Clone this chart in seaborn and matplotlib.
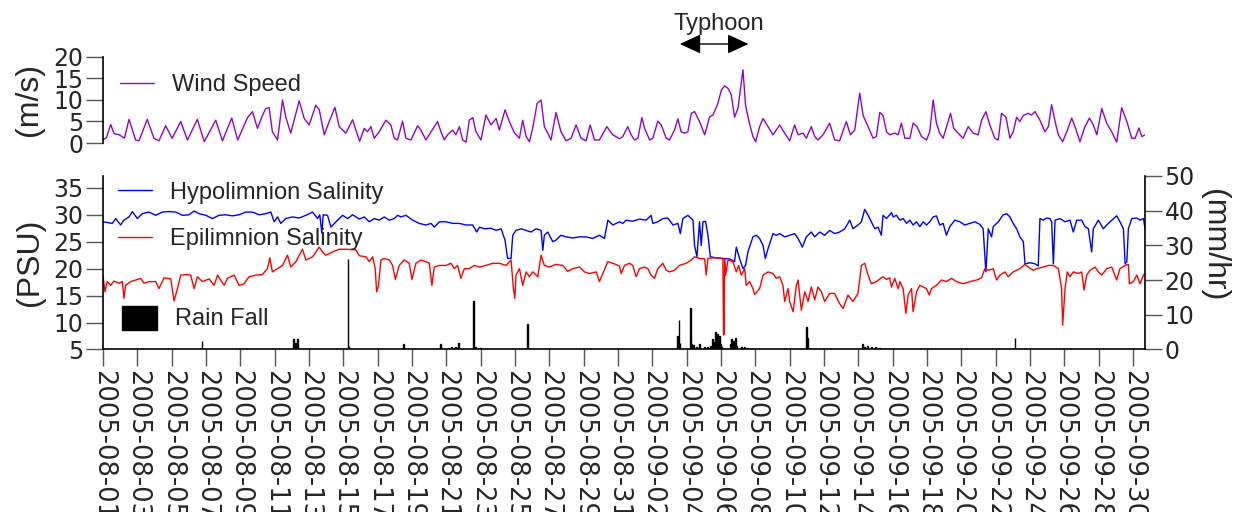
import numpy as np
import pandas as pd
import matplotlib
matplotlib.use("Agg")
import matplotlib.pyplot as plt
import matplotlib.dates as mdates
import seaborn as sns

# ---------------- data (days since 2005-08-01 00:00) ----------------
start_date = "2005-08-01"

wind_day = [0.0, 0.2, 0.45, 0.65, 0.95, 1.25, 1.52, 1.9, 2.1, 2.58, 2.97, 3.26, 3.65, 4.03, 4.53, 4.92,
            5.5, 5.9, 6.57, 6.96, 7.5, 7.85, 8.42, 8.71, 9.0, 9.29, 9.48, 9.68, 9.87, 10.17, 10.46,
            10.65, 10.94, 11.43, 11.72, 12.01, 12.4, 12.6, 12.89, 13.18, 13.51, 13.76, 14.15, 14.54,
            14.83, 14.95, 15.22, 15.41, 15.61, 15.8, 16.09, 16.48, 16.77, 16.97, 17.16, 17.45, 17.65,
            17.94, 18.33, 18.52, 18.81, 19.11, 19.49, 19.69, 19.88, 20.07, 20.37, 20.56, 20.76, 20.95,
            21.15, 21.34, 21.54, 21.73, 22.02, 22.31, 22.6, 22.9, 23.09, 23.42, 23.67, 23.97, 24.26,
            24.45, 24.65, 24.84, 25.03, 25.29, 25.52, 25.71, 25.91, 26.1, 26.39, 26.68, 26.98, 27.27,
            27.56, 27.85, 28.14, 28.38, 28.63, 28.92, 29.35, 29.7, 30.09, 30.28, 30.57, 30.77, 30.96,
            31.16, 31.39, 31.55, 31.84, 32.03, 32.32, 32.52, 32.81, 33.0, 33.29, 33.49, 33.68, 33.88,
            34.07, 34.27, 34.46, 34.75, 35.05, 35.34, 35.53, 35.82, 36.02, 36.21, 36.41, 36.6, 36.79,
            36.99, 37.28, 37.43, 37.63, 37.86, 38.02, 38.25, 38.45, 38.74, 39.03, 39.42, 39.71, 40.0,
            40.29, 40.49, 40.78, 40.97, 41.26, 41.46, 41.65, 41.94, 42.33, 42.62, 42.91, 43.3, 43.54,
            43.79, 44.08, 44.28, 44.57, 44.86, 45.05, 45.25, 45.44, 45.64, 45.83, 46.12, 46.32, 46.51,
            46.71, 47.0, 47.19, 47.42, 47.68, 47.97, 48.16, 48.36, 48.55, 48.74, 48.94, 49.37, 49.56,
            49.81, 50.1, 50.4, 50.69, 50.98, 51.18, 51.43, 51.66, 51.95, 52.15, 52.34, 52.6, 52.83,
            53.02, 53.22, 53.41, 53.61, 53.9, 54.09, 54.29, 54.58, 54.87, 55.07, 55.26, 55.46, 55.65,
            55.9, 56.14, 56.43, 56.62, 56.91, 57.2, 57.46, 57.69, 57.89, 58.18, 58.47, 58.76, 59.05,
            59.34, 59.64, 59.93, 60.12, 60.35, 60.51, 60.7]
wind_speed = [0.8, 1.2, 4.3, 2.2, 1.9, 1.1, 5.5, 0.7, 0.5, 5.5, 1.1, 0.5, 4.0, 1.1, 5.0, 0.7,
              5.5, 0.3, 5.3, 0.5, 5.8, 0.7, 5.9, 7.3, 3.4, 6.4, 8.0, 8.2, 2.6, 0.7, 10.0,
              6.0, 2.3, 9.8, 5.7, 4.2, 8.8, 7.7, 1.9, 5.0, 8.3, 3.8, 2.3, 5.4,
              1.9, 0.4, 3.4, 2.6, 3.8, 1.1, 2.6, 5.3, 4.2, 1.1, 0.7, 5.1, 1.1,
              0.7, 4.0, 3.0, 0.7, 2.6, 5.0, 2.6, 0.7, 1.9, 3.0, 1.9, 3.8, 0.7,
              0.2, 5.3, 5.9, 2.6, 0.7, 6.5, 4.2, 5.7, 3.0, 7.7, 5.0, 2.3, 1.1,
              5.3, 1.5, 0.3, 3.4, 9.2, 10.0, 3.8, 2.3, 0.7, 7.1, 2.6, 0.5, 1.1,
              4.2, 1.1, 0.5, 4.2, 0.7, 0.7, 3.8, 1.9, 1.0, 1.5, 3.8, 1.9, 0.7,
              1.1, 5.9, 3.4, 0.7, 1.1, 5.1, 4.2, 1.1, 0.7, 3.0, 5.6, 2.6, 2.3,
              2.6, 6.9, 7.3, 5.0, 1.9, 6.1, 6.5, 9.2, 12.3, 13.3, 12.7, 11.2, 6.0,
              8.1, 17.0, 8.8, 5.0, 1.5, 0.3, 3.8, 5.7, 3.8, 1.9, 4.2, 2.3, 0.5,
              4.2, 1.9, 2.3, 1.1, 3.8, 1.5, 0.7, 1.9, 4.6, 0.7, 0.5, 5.0, 1.9,
              3.0, 11.6, 6.4, 3.8, 1.1, 1.5, 7.1, 6.4, 2.6, 1.9, 2.3, 1.9, 4.6,
              1.1, 1.1, 4.6, 3.8, 1.5, 0.7, 2.6, 10.0, 4.6, 2.3, 1.1, 6.9, 3.4,
              2.3, 1.1, 3.8, 2.3, 1.9, 5.3, 7.3, 4.2, 1.1, 0.7, 6.9, 6.0, 1.1,
              2.6, 6.0, 5.0, 6.4, 6.9, 6.5, 7.3, 5.3, 2.6, 3.8, 8.9, 5.0, 1.9,
              0.3, 2.6, 5.8, 3.8, 0.3, 3.8, 5.8, 4.2, 1.9, 8.0, 4.6, 2.6, 0.2,
              8.2, 5.0, 1.1, 1.1, 3.5, 1.5, 1.9]

hypo_day = [0.0, 0.54, 0.74, 1.03, 1.22, 1.52, 1.71, 2.0, 2.29, 2.68, 3.07, 3.46, 3.85, 4.24, 4.63,
            5.01, 5.31, 5.6, 5.99, 6.38, 6.76, 7.15, 7.54, 7.93, 8.32, 8.71, 9.1, 9.48, 9.78, 9.97,
            10.17, 10.36, 10.65, 11.04, 11.43, 11.82, 12.21, 12.5, 12.63, 12.75, 12.83, 13.08, 13.28,
            13.57, 13.96, 14.25, 14.54, 14.93, 15.22, 15.51, 15.8, 16.09, 16.38, 16.68, 16.97, 17.16,
            17.36, 17.65, 18.04, 18.42, 18.81, 19.11, 19.3, 19.59, 19.98, 20.37, 20.76, 21.15, 21.54,
            21.77, 21.93, 22.22, 22.6, 22.9, 23.19, 23.42, 23.57, 23.77, 23.87, 24.06, 24.35, 24.65,
            24.94, 25.23, 25.52, 25.62, 25.71, 25.91, 26.2, 26.39, 26.68, 26.98, 27.37, 27.76, 28.14,
            28.53, 28.92, 29.21, 29.41, 29.7, 30.09, 30.28, 30.48, 30.86, 31.25, 31.64, 31.93, 32.03,
            32.32, 32.61, 32.9, 33.2, 33.49, 33.63, 33.78, 34.07, 34.27, 34.37, 34.46, 34.6, 34.75,
            34.85, 34.95, 35.1, 35.24, 35.38, 35.73, 36.11, 36.5, 36.79, 36.89, 37.08, 37.28, 37.43,
            37.57, 37.86, 38.05, 38.25, 38.45, 38.58, 38.74, 39.03, 39.22, 39.42, 39.71, 40.0, 40.29,
            40.49, 40.74, 40.97, 41.26, 41.46, 41.75, 42.04, 42.33, 42.62, 42.91, 43.21, 43.5, 43.69,
            43.98, 44.18, 44.37, 44.57, 44.76, 44.96, 45.15, 45.34, 45.44, 45.64, 45.83, 45.93, 46.03,
            46.22, 46.42, 46.61, 46.81, 47.0, 47.19, 47.39, 47.58, 47.78, 47.97, 48.16, 48.36, 48.55,
            48.74, 48.94, 49.13, 49.33, 49.62, 49.91, 50.2, 50.5, 50.79, 51.08, 51.27, 51.43, 51.57,
            51.76, 51.86, 52.15, 52.44, 52.64, 52.83, 53.02, 53.22, 53.41, 53.61, 53.71, 54.0, 54.29,
            54.48, 54.58, 54.77, 54.97, 55.16, 55.26, 55.36, 55.46, 55.75, 56.04, 56.33, 56.52, 56.72,
            57.01, 57.2, 57.4, 57.59, 57.69, 57.98, 58.27, 58.47, 58.66, 59.05, 59.24, 59.44, 59.54,
            59.64, 59.73, 59.93, 60.22, 60.41, 60.61, 60.7]
hypo_sal = [28.7, 28.4, 29.3, 28.1, 29.0, 29.6, 30.6, 29.3, 30.2, 30.5, 29.9, 30.5, 30.6, 30.5, 29.9,
            30.0, 30.7, 30.2, 29.9, 29.3, 29.9, 30.0, 29.8, 30.0, 30.5, 30.5, 30.0, 30.2, 30.5, 28.7,
            29.6, 28.4, 29.3, 29.6, 29.4, 29.9, 30.5, 29.3, 30.0, 26.6, 30.0, 29.9, 27.7,
            28.7, 29.9, 29.3, 30.0, 29.2, 29.6, 28.7, 29.3, 29.0, 29.6, 29.0, 29.3, 29.9,
            29.6, 29.9, 29.0, 28.4, 28.1, 28.4, 27.7, 28.7, 28.7, 28.4, 28.4, 28.1, 28.1,
            26.8, 27.7, 27.4, 27.5, 27.1, 27.4, 25.3, 21.9, 21.9, 26.2, 27.1, 27.4, 27.1,
            26.8, 27.4, 27.1, 23.4, 26.2, 26.8, 25.0, 25.3, 26.2, 25.9, 25.7, 25.9, 25.9,
            25.6, 26.2, 25.6, 29.0, 28.1, 28.7, 28.4, 29.0, 28.8, 29.2, 29.0, 29.9, 28.4,
            28.7, 29.3, 29.4, 28.1, 28.4, 26.5, 29.3, 29.9, 29.3, 29.0, 24.3, 22.2, 28.7,
            24.3, 28.7, 28.8, 26.2, 22.2, 22.0, 21.9, 21.8, 21.3, 24.0, 21.9, 20.0, 20.6,
            23.1, 25.9, 26.2, 25.6, 24.3, 21.9, 23.7, 26.5, 26.2, 26.5, 25.9, 26.2, 26.5,
            25.6, 24.0, 25.9, 26.8, 25.9, 26.8, 26.2, 27.1, 26.5, 26.8, 27.4, 29.0, 27.4,
            28.1, 28.7, 31.0, 29.9, 28.7, 27.4, 27.7, 26.2, 29.9, 29.3, 30.0, 30.4, 29.6,
            29.9, 29.0, 29.3, 28.4, 29.0, 28.1, 28.7, 27.8, 28.7, 28.1, 28.7, 29.6, 29.8,
            28.1, 28.4, 26.2, 27.8, 29.0, 28.7, 28.1, 28.4, 28.7, 28.2, 27.4, 19.4, 27.4,
            25.9, 27.8, 28.7, 30.0, 30.2, 29.6, 28.4, 27.4, 25.9, 25.0, 20.9, 21.1, 20.9,
            20.5, 29.3, 29.0, 29.4, 29.3, 28.7, 20.9, 29.0, 29.3, 28.7, 29.0, 26.8, 29.0,
            29.0, 27.8, 27.4, 23.1, 27.4, 29.0, 27.4, 28.1, 28.7, 29.8, 28.7, 27.4, 20.9,
            21.3, 27.4, 29.3, 29.4, 29.0, 29.3, 27.4]

epi_day = [0.0, 0.12, 0.25, 0.45, 0.64, 0.93, 1.13, 1.22, 1.32, 1.61, 1.9, 2.2, 2.39, 2.68, 3.07,
           3.26, 3.56, 3.95, 4.14, 4.34, 4.53, 4.92, 5.11, 5.31, 5.5, 5.79, 6.18, 6.48, 6.67, 7.06,
           7.25, 7.64, 7.93, 8.22, 8.51, 8.9, 9.29, 9.58, 9.72, 9.87, 10.17, 10.46, 10.75, 10.94,
           11.24, 11.62, 11.82, 12.21, 12.6, 12.79, 12.98, 13.37, 13.76, 14.15, 14.73, 14.93, 15.32,
           15.51, 15.71, 15.86, 15.94, 16.05, 16.19, 16.38, 16.68, 16.87, 17.03, 17.26, 17.55, 17.84,
           18.0, 18.23, 18.52, 18.81, 19.01, 19.16, 19.3, 19.59, 19.98, 20.27, 20.47, 20.66, 20.85,
           21.05, 21.34, 21.63, 21.93, 22.31, 22.7, 23.09, 23.48, 23.77, 23.91, 23.99, 24.06, 24.26,
           24.45, 24.65, 24.84, 25.03, 25.33, 25.52, 25.71, 26.0, 26.39, 26.78, 27.07, 27.37, 27.76,
           28.05, 28.34, 28.73, 28.92, 29.12, 29.41, 29.7, 30.09, 30.19, 30.38, 30.67, 30.86, 31.06,
           31.25, 31.55, 31.74, 31.93, 32.13, 32.32, 32.61, 32.81, 33.0, 33.29, 33.58, 33.97, 34.27,
           34.46, 34.75, 35.05, 35.14, 35.24, 35.53, 35.92, 36.11, 36.15, 36.18, 36.21, 36.27, 36.41,
           36.7, 36.89, 37.03, 37.18, 37.38, 37.47, 37.67, 37.86, 37.96, 38.25, 38.45, 38.74, 39.03,
           39.22, 39.42, 39.61, 39.71, 39.91, 40.0, 40.2, 40.39, 40.49, 40.68, 40.88, 41.07, 41.26,
           41.46, 41.65, 41.85, 42.04, 42.33, 42.62, 42.91, 43.11, 43.4, 43.69, 43.98, 44.18, 44.37,
           44.57, 44.76, 45.05, 45.34, 45.44, 45.64, 45.83, 45.93, 46.12, 46.32, 46.42, 46.61, 46.77,
           46.9, 47.1, 47.19, 47.39, 47.58, 47.78, 47.97, 48.13, 48.26, 48.55, 48.84, 49.13, 49.43,
           49.72, 50.1, 50.5, 50.89, 51.18, 51.37, 51.57, 51.86, 52.05, 52.25, 52.54, 52.73, 53.02,
           53.41, 53.71, 53.9, 54.19, 54.38, 54.77, 55.07, 55.36, 55.65, 55.84, 55.9, 56.04, 56.17,
           56.33, 56.52, 56.82, 57.01, 57.15, 57.3, 57.5, 57.79, 57.98, 58.18, 58.47, 58.76, 59.05,
           59.24, 59.54, 59.73, 59.79, 60.02, 60.22, 60.41, 60.61, 60.7]
epi_sal = [18.8, 15.7, 17.6, 16.9, 17.7, 17.3, 17.6, 14.5, 16.9, 17.6, 17.9, 18.2, 17.3, 17.6, 17.6,
           16.3, 18.3, 18.1, 14.0, 16.3, 18.8, 18.9, 18.8, 16.3, 18.5, 17.6, 18.1, 16.9, 18.8, 16.9,
           18.2, 18.8, 16.9, 17.2, 18.5, 18.8, 18.9, 20.0, 22.0, 19.4, 20.0, 20.6, 22.5, 20.3,
           21.3, 23.6, 21.6, 22.2, 24.0, 23.1, 22.5, 23.1, 23.6, 23.6, 23.5, 22.4, 22.2,
           21.3, 22.2, 20.0, 15.7, 16.9, 21.6, 21.9, 21.6, 20.6, 18.0, 20.6, 21.6, 21.0,
           18.0, 21.0, 21.6, 21.3, 21.0, 16.9, 20.3, 20.6, 20.6, 21.0, 20.0, 20.6, 18.2,
           20.0, 20.0, 20.6, 20.3, 20.6, 21.0, 21.0, 20.6, 21.6, 16.3, 14.5, 18.8, 20.0,
           16.9, 19.4, 18.5, 19.4, 18.5, 22.5, 20.6, 20.3, 20.8, 20.6, 19.5, 20.0, 20.3,
           19.4, 19.1, 19.4, 17.6, 19.1, 21.3, 21.0, 20.5, 19.1, 20.6, 21.0, 20.6, 18.5,
           20.0, 20.3, 20.0, 18.8, 18.2, 20.0, 21.0, 19.7, 19.4, 19.7, 20.6, 21.0, 21.6,
           22.2, 21.9, 21.8, 18.8, 21.9, 22.0, 22.0, 21.8, 7.7, 7.9, 21.8, 18.8, 21.6,
           21.3, 19.4, 20.6, 18.8, 20.0, 16.9, 17.6, 16.3, 15.2, 16.3, 18.8, 19.4, 19.1,
           18.2, 18.5, 16.9, 13.9, 16.3, 13.9, 12.0, 16.9, 17.9, 12.3, 15.7, 13.9, 16.6,
           14.2, 16.6, 15.7, 13.9, 15.4, 15.4, 13.5, 12.6, 15.1, 13.9, 15.4, 20.6, 21.0,
           18.8, 17.2, 17.6, 18.3, 18.5, 18.0, 18.3, 16.6, 18.2, 16.3, 17.6, 16.3, 11.7,
           15.1, 16.3, 12.0, 15.7, 16.9, 16.6, 16.3, 15.1, 16.3, 16.9, 17.9, 17.6, 18.2,
           17.6, 17.2, 17.6, 17.9, 18.3, 20.0, 19.7, 20.0, 17.9, 18.8, 19.4, 18.5, 19.4,
           20.0, 20.8, 20.3, 19.7, 20.0, 20.3, 20.6, 20.6, 20.0, 16.3, 9.5, 16.3, 19.4,
           18.5, 19.4, 19.1, 19.4, 16.0, 18.8, 19.7, 20.3, 19.4, 18.8, 20.0, 20.3, 17.9,
           20.0, 20.6, 20.8, 17.2, 17.6, 18.8, 17.2, 18.8, 19.1]

rain_day = [5.77, 11.08, 11.2, 11.31, 14.27, 14.33, 17.49, 19.65, 20.12, 20.29, 20.52, 20.7, 21.6,
            21.7, 21.85, 22.0, 24.74, 33.45, 33.56, 33.61, 34.21, 34.29, 34.4, 34.58, 34.75, 35.04,
            35.22, 35.39, 35.51, 35.6, 35.69, 35.74, 35.8, 35.86, 35.92, 35.98, 36.04, 36.56, 36.62,
            36.73, 36.85, 36.91, 37.2, 37.38, 37.55, 40.99, 41.05, 41.11, 44.26, 44.37, 44.55, 44.78,
            45.01, 45.25, 53.12]
rain_mm = [2.4, 3.0, 2.0, 3.0, 26.0, 1.0, 1.6, 1.6, 0.5, 0.6, 0.6, 2.0, 13.9,
           0.6, 0.4, 0.5, 7.4, 3.9, 8.5, 2.0, 12.0, 1.5, 1.2, 0.8, 1.5, 0.6,
           0.8, 1.0, 3.0, 2.2, 5.1, 3.5, 4.5, 3.0, 4.0, 1.5, 0.6, 1.5, 3.0,
           2.5, 3.3, 1.0, 0.8, 0.6, 0.5, 6.6, 3.3, 0.5, 1.5, 0.8, 1.0, 0.6,
           0.7, 0.5, 3.4]

typhoon_start_day = 33.6
typhoon_end_day = 37.6
typhoon_label_day = 35.86
x_end_day = 60.7

tick_dates = pd.date_range("2005-08-01", "2005-09-30", freq="2D")
tick_labels = [d.strftime("%Y-%m-%d") for d in tick_dates]

# ---------------- helpers ----------------
t0 = pd.Timestamp(start_date)


def to_dates(days):
    return t0 + pd.to_timedelta(np.asarray(days, dtype=float), unit="D")


def to_num(day):
    return mdates.date2num(t0 + pd.Timedelta(days=day))


# ---------------- style ----------------
sns.set_style("ticks")
plt.rcParams["font.family"] = ["Liberation Sans", "DejaVu Sans"]
plt.rcParams["axes.linewidth"] = 1.2
TICK_FONT = "DejaVu Sans"

fig = plt.figure(figsize=(12.36, 5.12), dpi=100)
ax_w = fig.add_axes([0.0833, 0.7207, 0.8431, 0.168])
ax_s = fig.add_axes([0.0833, 0.3174, 0.8431, 0.3389])
ax_r = ax_s.twinx()

tick_kw = dict(length=12, width=1, color="#555555", direction="out")

# ---- wind panel ----
sns.lineplot(x=to_dates(wind_day), y=wind_speed, ax=ax_w, color="#9900CC", lw=1.0,
             estimator=None, sort=False, label="Wind Speed")
ax_w.set_xlim(to_num(0), to_num(x_end_day))
ax_w.set_ylim(0, 20)
ax_w.set_yticks([0, 5, 10, 15, 20])
ax_w.tick_params(axis="y", labelsize=17, pad=2, labelfontfamily=TICK_FONT, **tick_kw)
ax_w.tick_params(axis="x", bottom=False, labelbottom=False)
for s in ["top", "right", "bottom"]:
    ax_w.spines[s].set_visible(False)
ax_w.spines["left"].set_color("black")
ax_w.set_xlabel("")
ax_w.set_ylabel("(m/s)", fontsize=23, va="center")
ax_w.yaxis.set_label_coords(-0.071, 0.5)
ax_w.legend(loc="center left", bbox_to_anchor=(120 / 1236, 1 - 85 / 512),
            bbox_transform=fig.transFigure, frameon=False, fontsize=17,
            handlelength=1.45, handletextpad=0.75, borderpad=0, borderaxespad=0)

# typhoon annotation
xt = ax_w.get_xaxis_transform()
ax_w.annotate("", xy=(to_num(typhoon_end_day), 1.151), xytext=(to_num(typhoon_start_day), 1.151),
              xycoords=xt, textcoords=xt, annotation_clip=False,
              arrowprops=dict(arrowstyle="<|-|>,head_length=0.65,head_width=0.3",
                              mutation_scale=20, color="black", lw=1, shrinkA=0, shrinkB=0))
ax_w.text(to_num(typhoon_label_day), 1.384, "Typhoon", transform=xt, ha="center", va="center",
          fontsize=17, clip_on=False)

# ---- salinity panel ----
sns.lineplot(x=to_dates(hypo_day), y=hypo_sal, ax=ax_s, color="#0000FF", lw=1.0,
             estimator=None, sort=False, label="Hypolimnion Salinity")
sns.lineplot(x=to_dates(epi_day), y=epi_sal, ax=ax_s, color="#FF0000", lw=1.0,
             estimator=None, sort=False, label="Epilimnion Salinity")
ax_s.set_xlim(to_num(0), to_num(x_end_day))
ax_s.set_ylim(5, 37.2)
ax_s.set_yticks([5, 10, 15, 20, 25, 30, 35])
ax_s.set_xticks(mdates.date2num(tick_dates))
ax_s.set_xticklabels(tick_labels, rotation=270, ha="center", va="top", fontsize=18.5,
                     fontfamily=TICK_FONT)
ax_s.tick_params(axis="y", labelsize=17, pad=2, labelfontfamily=TICK_FONT, **tick_kw)
ax_s.tick_params(axis="x", pad=3, **tick_kw)
ax_s.spines["top"].set_visible(False)
ax_s.spines["right"].set_visible(False)
for s in ["left", "bottom"]:
    ax_s.spines[s].set_color("black")
ax_s.set_xlabel("")
ax_s.set_ylabel("(PSU)", fontsize=23, va="center")
ax_s.yaxis.set_label_coords(-0.070, 0.5)
ax_s.legend(loc="center left", bbox_to_anchor=(118 / 1236, 1 - 216 / 512),
            bbox_transform=fig.transFigure, frameon=False, fontsize=17,
            handlelength=1.45, handletextpad=0.75, labelspacing=1.05,
            borderpad=0, borderaxespad=0)

# ---- rain (right axis) ----
ax_r.bar(to_dates(rain_day), rain_mm, width=0.045, color="black", edgecolor="black",
         linewidth=1.0, label="Rain Fall")
ax_r.set_ylim(0, 50)
ax_r.set_yticks([0, 10, 20, 30, 40, 50])
ax_r.set_xlim(to_num(0), to_num(x_end_day))
ax_r.tick_params(axis="y", labelsize=17, pad=2, labelfontfamily=TICK_FONT, **tick_kw)
for s in ["top", "left", "bottom"]:
    ax_r.spines[s].set_visible(False)
ax_r.spines["right"].set_color("black")
ax_r.set_ylabel("(mm/hr)", fontsize=23, rotation=270, va="center")
ax_r.yaxis.set_label_coords(1.066, 0.6)
ax_r.legend(loc="center left", bbox_to_anchor=(122 / 1236, 1 - 318 / 512),
            bbox_transform=fig.transFigure, frameon=False, fontsize=17,
            handlelength=1.48, handleheight=1.19, handletextpad=0.75,
            borderpad=0, borderaxespad=0)

fig.savefig("out.png", dpi=100)
